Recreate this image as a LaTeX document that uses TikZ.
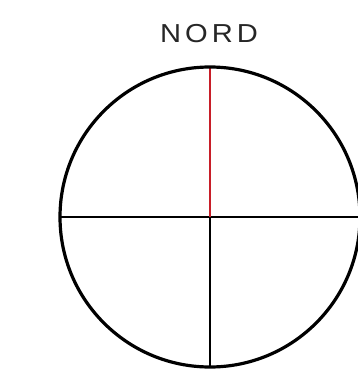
\documentclass[tikz,border=0pt]{standalone}
\usepackage{fontspec}
\setmainfont{Liberation Sans}
\definecolor{nordred}{RGB}{200,30,40}
\begin{document}
\begin{tikzpicture}[x=1pt,y=-1pt,
  ring/.style={line width=3.2pt,black},
  axis/.style={line width=2.8pt,black},
  north/.style={line width=1.8pt,nordred},
  label/.style={font=\fontsize{26}{26}\selectfont\addfontfeature{LetterSpace=14}, text=black!85, inner sep=0pt}]
\useasboundingbox (0,0) rectangle (358,377);
\clip (0,0) rectangle (358,377);
\coordinate (c) at (210,217);
\coordinate (top) at (210,67);
\coordinate (bot) at (210,367);
\coordinate (left) at (60,217);
\coordinate (right) at (360,217);
\node[label, xscale=1.12] (nord) at (209,34) {NORD};
\draw[axis] (left) -- (right);
\draw[axis] (c) -- (bot);
\draw[north] (top) -- (c);
\draw[ring] (c) circle (150);
\end{tikzpicture}
\end{document}
